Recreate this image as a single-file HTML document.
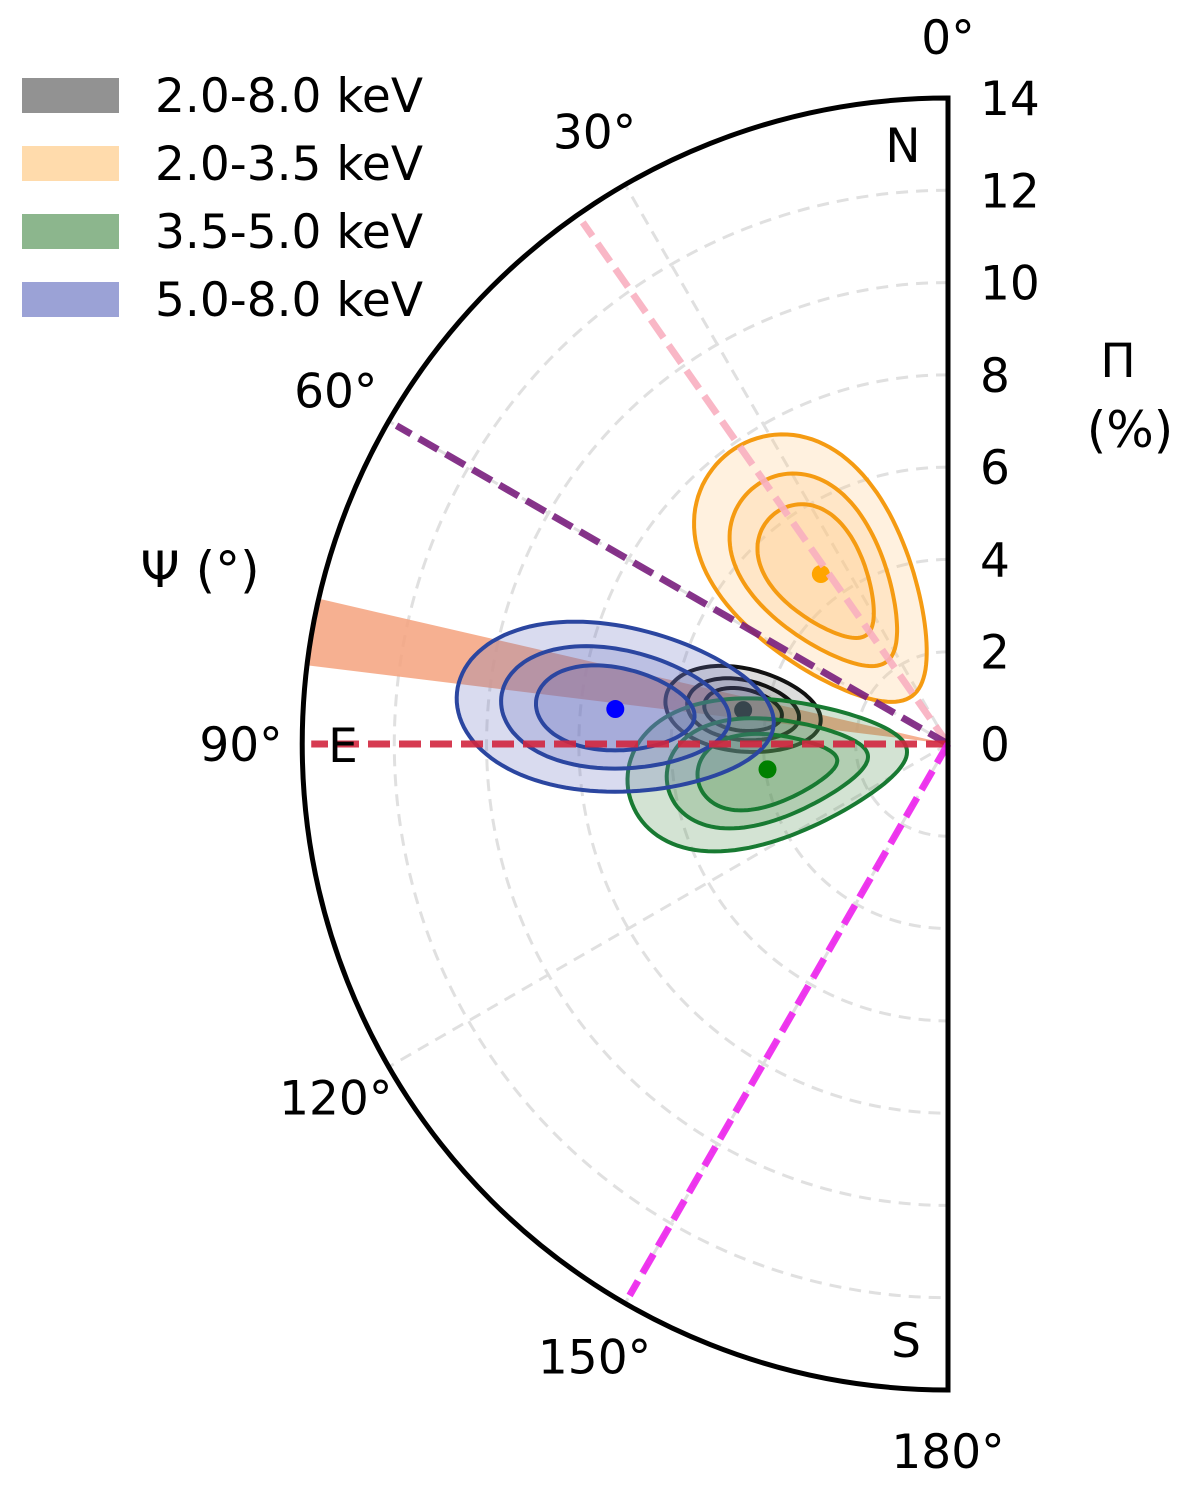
<!DOCTYPE html>
<html><head><meta charset="utf-8"><style>
body{margin:0;background:#fff;}
svg text{font-family:"DejaVu Sans","Liberation Sans",sans-serif;}
</style></head><body>
<svg id="chart" width="1200" height="1488" viewBox="0 0 1200 1488" xmlns="http://www.w3.org/2000/svg">
<g id="grid"></g>
<g id="wedge"></g>
<g id="contours"></g>
<g id="reflines"></g>
<g id="frame"></g>
<g id="labels"></g>
<g id="legend"></g>
</svg>
<script>
const rTicks=[0,2,4,6,8,10,12,14];
const angTicks=[0,30,60,90,120,150,180];
const gridAngles=[30,60,120,150];
const refAngles=[35,60,90,150];
const refColors=['#f9b0c0','#7a1f7e','#d2263f','#ee22ee'];
const wedgeRange=[77,83];
const bandNames=['2.0-8.0 keV','2.0-3.5 keV','3.5-5.0 keV','5.0-8.0 keV'];
const bandColors=['#111111','#f59b12','#187a32','#2b46a0'];
const bandFill=['#777','#ffc880','#4f8f50','#6670c0'];
const dotColors=['#1a1a1a','#ffa500','#008000','#0000ff'];
const psiCenter=[80.6,36.8,98,84];
const piCenter=[4.5,4.6,3.95,7.25];
const radHalf=[1.7,3.3,3.05,3.45];
const tanHalf=[0.9,1.95,1.55,1.8];
const eggFactor=[0.1,0.3,0.35,0.15];
const levels=[1,0.72,0.5];

const cx=948,cy=744,R=646,rMax=14;
const NS='http://www.w3.org/2000/svg';
function rs(p){return p/rMax*R;}
function pt(psi,p){const a=psi*Math.PI/180,r=rs(p);return [cx-r*Math.sin(a),cy-r*Math.cos(a)];}
function mk(tag,attrs,parent){const e=document.createElementNS(NS,tag);for(const k in attrs)e.setAttribute(k,attrs[k]);parent.appendChild(e);return e;}
const G=id=>document.getElementById(id);

rTicks.forEach(v=>{if(v===0||v===14)return;
 const r=rs(v);
 const c=mk('path',{d:`M${cx},${cy-r} A${r},${r} 0 0 0 ${cx},${cy+r}`,fill:'none',stroke:'#e0e0e0','stroke-width':3,'stroke-dasharray':'12,8'},G('grid'));
 
 
});
gridAngles.forEach(a=>{const [x,y]=pt(a,rMax);
 const l=mk('line',{x1:cx,y1:cy,x2:x,y2:y,stroke:'#e0e0e0','stroke-width':3,'stroke-dasharray':'12,8'},G('grid'));
 
 
});
{const [x1,y1]=pt(wedgeRange[0],rMax),[x2,y2]=pt(wedgeRange[1],rMax);
 const w=mk('path',{d:`M${cx},${cy} L${x1},${y1} A${R},${R} 0 0 0 ${x2},${y2} Z`,fill:'#f5a27e',opacity:0.85},G('wedge'));
 
 }
for(let b=0;b<4;b++){
 const a=psiCenter[b]*Math.PI/180;
 const ur=[-Math.sin(a),-Math.cos(a)], ut=[-Math.cos(a),Math.sin(a)];
 const [x0,y0]=pt(psiCenter[b],piCenter[b]);
 levels.forEach(k=>{
  let d='';for(let i=0;i<=120;i++){const t=i/120*2*Math.PI;
   const rr=k*radHalf[b]*Math.cos(t);
   const tt=k*tanHalf[b]*Math.sin(t)*(1+eggFactor[b]*Math.cos(t));
   const x=x0+rs(rr)*ur[0]+rs(tt)*ut[0], y=y0+rs(rr)*ur[1]+rs(tt)*ut[1];
   d+=(i?'L':'M')+x.toFixed(1)+','+y.toFixed(1);}
  const p=mk('path',{d:d+'Z',fill:bandFill[b],'fill-opacity':0.25,stroke:bandColors[b],'stroke-width':4},G('contours'));
  
  
 });
 const c=mk('circle',{cx:x0,cy:y0,r:9,fill:dotColors[b]},G('contours'));
 
 
}
refAngles.forEach((a,i)=>{const [x,y]=pt(a,13.8);
 const l=mk('line',{x1:cx,y1:cy,x2:x,y2:y,stroke:refColors[i],'stroke-width':7,'stroke-dasharray':'22,9',opacity:0.9},G('reflines'));
 
 
});
{const f=mk('path',{d:`M${cx},${cy-R} A${R},${R} 0 0 0 ${cx},${cy+R} Z`,fill:'none',stroke:'#000','stroke-width':5},G('frame'));
 
 }
rTicks.forEach(v=>{const t=mk('text',{x:980,y:cy-rs(v)+17,'font-size':47},G('labels'));t.textContent=v;
 
 });
angTicks.forEach(a=>{const [x,y]=pt(a,rMax*707/646);
 const t=mk('text',{x:x,y:y+17,'font-size':47,'text-anchor':'middle'},G('labels'));t.textContent=a+'°';
 
 });
[['N',903,162],['S',906,1357],['E',343,762],['Π',1118,377],['(%)',1130,447],['Ψ (°)',200,587]].forEach(([s,x,y])=>{
 const t=mk('text',{x:x,y:y,'font-size':s.length>2?50:47,'text-anchor':'middle'},G('labels'));t.textContent=s;
 
 });
bandNames.forEach((n,i)=>{const y=78+i*68;
 const r=mk('rect',{x:22,y:y,width:97,height:35,fill:bandFill[i],opacity:i===0?0.8:0.65},G('legend'));
 
 
 const t=mk('text',{x:155,y:y+34,'font-size':47},G('legend'));t.textContent=n;
 
 });
</script>
</body></html>
